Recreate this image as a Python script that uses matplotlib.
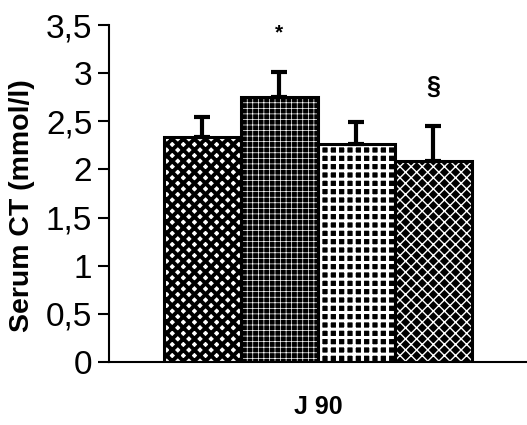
import matplotlib
matplotlib.use('Agg')
import matplotlib.pyplot as plt

# values
groups = ['g1', 'g2', 'g3', 'g4']
means = [2.34, 2.75, 2.26, 2.09]
errors = [0.20, 0.26, 0.23, 0.36]
marks = ['', '*', '', '§']
mark_y = [0, 3.42, 0, 2.86]
yticks = [0, 0.5, 1, 1.5, 2, 2.5, 3, 3.5]
ytick_labels = ['0', '0,5', '1', '1,5', '2', '2,5', '3', '3,5']

plt.rcParams['font.family'] = ['Liberation Sans', 'DejaVu Sans']

fig = plt.figure(figsize=(5.27, 4.25), dpi=100)
ax = fig.add_axes([109 / 527, 1 - 362 / 425, 1 - 109 / 527, 337 / 425])

x = list(range(len(groups)))
faces = ['white', 'black', 'black', 'black']
hatch_colors = ['black', 'white', 'white', 'white']
hatches = ['xxx', '+++', '++', 'xxx']
hatch_lw = [2.8, 0.5, 2.2, 1.0]

for xi, m, fc, hc, h, hl in zip(x, means, faces, hatch_colors, hatches, hatch_lw):
    with plt.rc_context({'hatch.linewidth': hl}):
        bars = ax.bar(xi, m, width=1.0, color=fc, edgecolor=hc, hatch=h, linewidth=0)
    for b in bars:
        if hasattr(b, 'set_hatch_linewidth'):
            b.set_hatch_linewidth(hl)
    ax.bar(xi, m, width=1.0, fill=False, edgecolor='black', linewidth=2.2)

ax.errorbar(x, means, yerr=[[0] * len(errors), errors], fmt='none',
            ecolor='black', elinewidth=3, capsize=5.5, capthick=3)

for xi, t, ty in zip(x, marks, mark_y):
    if t:
        ax.text(xi, ty, t, ha='center', va='center',
                fontsize=18 if t == '§' else 15, fontweight='bold')

ax.set_xlim(-1.21, 4.22)
ax.set_ylim(0, 3.5)
ax.set_yticks(yticks)
ax.set_yticklabels(ytick_labels, fontsize=24)
ax.set_xticks([])
ax.spines['top'].set_visible(False)
ax.spines['right'].set_visible(False)
ax.spines['left'].set_linewidth(1.5)
ax.spines['bottom'].set_linewidth(1.5)
ax.tick_params(axis='y', direction='out', length=8, width=1.5, pad=4)
ax.set_ylabel('Serum CT (mmol/l)', fontsize=20.5, fontweight='bold')
ax.yaxis.set_label_coords(-0.178, 0.463)
ax.set_xlabel('J 90', fontsize=18, fontweight='bold', labelpad=24)

fig.savefig('out.png', dpi=100)
